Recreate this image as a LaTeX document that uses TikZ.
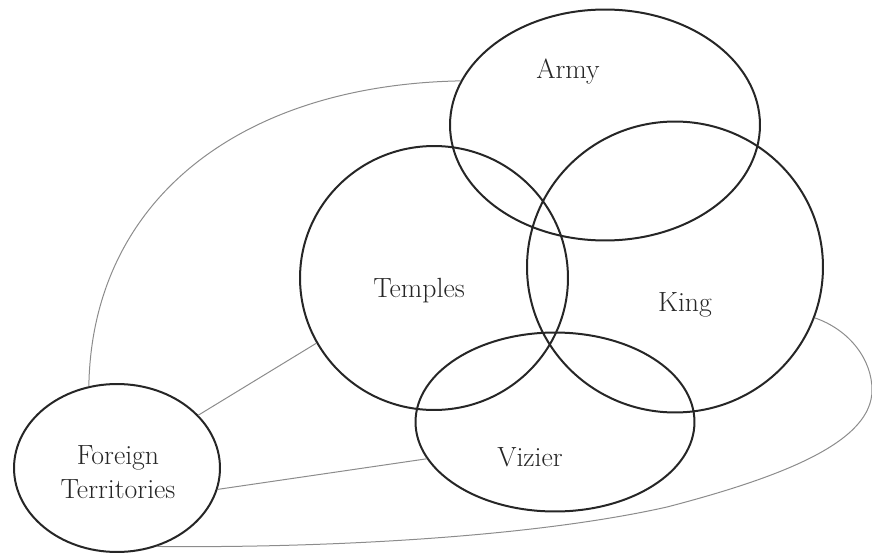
\documentclass[tikz,border=0pt]{standalone}
\usetikzlibrary{shapes.geometric}
\tikzset{
	region/.style={ellipse, draw, line width=0.4mm, color=black!85, inner sep=0pt},
	tie/.style={line width=0.2mm, color=black!45},
	tag/.style={font=\fontsize{15.8}{19.4}\selectfont, color=black!85, align=center, inner sep=0pt}
}
\begin{document}
\begin{tikzpicture}[x=0.02cm, y=-0.02cm]
		%%%%% START %%%%%
		\useasboundingbox (0, 0) rectangle (872, 554);
		
		\node[region, minimum width=6.2cm, minimum height=4.62cm] (army) at (605, 125) {};
		\node[region, minimum width=5.36cm, minimum height=5.28cm] (temples) at (434, 278) {};
		\node[region, minimum width=5.92cm, minimum height=5.82cm] (king) at (675, 267) {};
		\node[region, minimum width=5.58cm, minimum height=3.58cm] (vizier) at (555, 422) {};
		\node[region, minimum width=4.12cm, minimum height=3.36cm] (foreign) at (117, 468) {};
		
		\node[tag] (armyname) at (568, 72) {Army};
		\node[tag] (templesname) at (419, 291) {Temples};
		\node[tag] (kingname) at (685, 305) {King};
		\node[tag] (viziername) at (530, 457) {Vizier};
		\node[tag] (foreignname) at (118, 472) {Foreign\\Territories};
		
		\draw[tie] (foreign.109) .. controls (92, 200) and (240, 85) .. (army.163);
		\draw[tie] (foreign.33) -- (temples.209);
		\draw[tie] (foreign.348) -- (vizier.196);
		\draw[tie] (king.340) .. controls (850, 330) and (872, 360) .. (872, 390)
			.. controls (872, 440) and (790, 475) .. (667, 507)
			.. controls (520, 540) and (300, 548) .. (foreign.297);
		
		%%%%% END %%%%%
	\end{tikzpicture}
\end{document}
